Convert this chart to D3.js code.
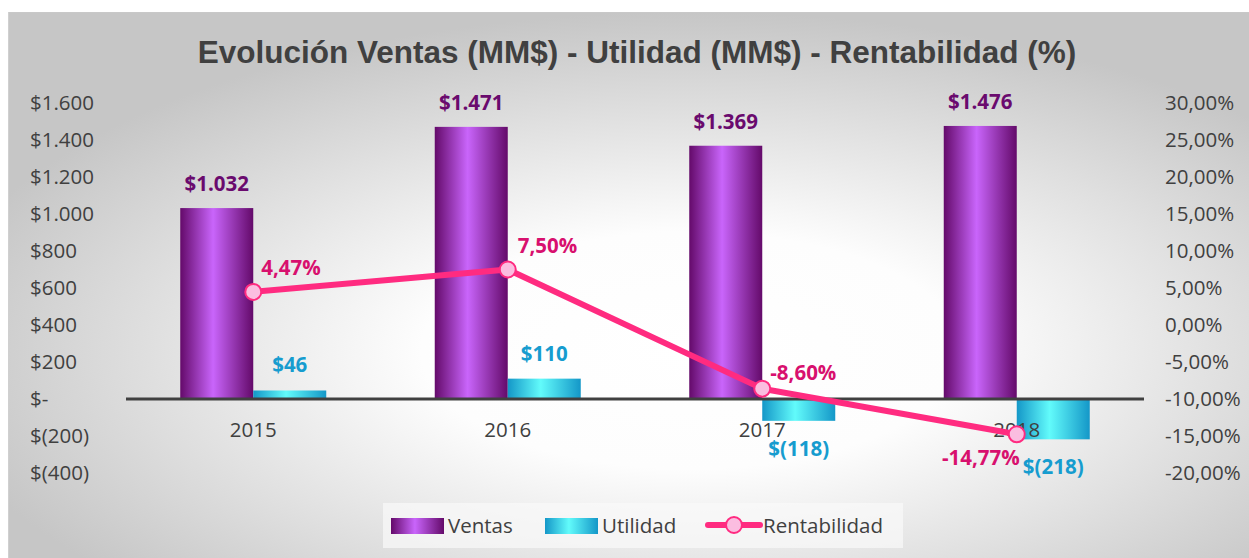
<!DOCTYPE html>
<html>
<head>
<meta charset="utf-8">
<script src="https://cdn.jsdelivr.net/npm/d3@7"></script>
<style>
  body { margin: 0; background: #fff; }
  svg { display: block; }
</style>
</head>
<body>
<div id="chart"></div>
<script>
const years = ["2015", "2016", "2017", "2018"];
const ventas = [1032, 1471, 1369, 1476];
const utilidad = [46, 110, -118, -218];
const rentabilidad = [4.47, 7.50, -8.60, -14.77];
const leftTicks = [1600, 1400, 1200, 1000, 800, 600, 400, 200, 0, -200, -400];
const rightTicks = [30, 25, 20, 15, 10, 5, 0, -5, -10, -15, -20];

const W = 1249, H = 558;
const svg = d3.select("#chart").append("svg").attr("width", W).attr("height", H);
const defs = svg.append("defs");

const bg = defs.append("radialGradient").attr("id", "bg")
    .attr("cx", "55%").attr("cy", "62%").attr("r", "62%");
bg.append("stop").attr("offset", "0%").attr("stop-color", "#ffffff");
bg.append("stop").attr("offset", "35%").attr("stop-color", "#fdfdfd");
bg.append("stop").attr("offset", "100%").attr("stop-color", "#c6c6c6");

function cyl(id, edge, mid) {
  const g = defs.append("linearGradient").attr("id", id).attr("x1", "0").attr("x2", "1").attr("y1", "0").attr("y2", "0");
  g.append("stop").attr("offset", "0%").attr("stop-color", edge);
  g.append("stop").attr("offset", "45%").attr("stop-color", mid);
  g.append("stop").attr("offset", "100%").attr("stop-color", edge);
}
cyl("gv", "#640a6a", "#c965fb");
cyl("gu", "#1497c8", "#62fbfb");

svg.append("rect").attr("x", 8).attr("y", 12).attr("width", W - 8).attr("height", H - 12)
    .attr("fill", "url(#bg)");
svg.append("line").attr("x1", 8).attr("x2", W).attr("y1", 12.5).attr("y2", 12.5)
    .attr("stroke", "#c8c8c8");
svg.append("line").attr("x1", 8.5).attr("x2", 8.5).attr("y1", 12).attr("y2", H)
    .attr("stroke", "#d0d0d0");

svg.append("text").attr("x", 637).attr("y", 63).attr("text-anchor", "middle")
    .style("font-family", "Liberation Sans, Arial, sans-serif").style("font-weight", "bold")
    .style("font-size", "31.5px").attr("fill", "#404040")
    .text("Evolución Ventas (MM$) - Utilidad (MM$) - Rentabilidad (%)");

const x = d3.scaleBand().domain(years).range([126, 1144]);
const y = d3.scaleLinear().domain([-400, 1600]).range([473, 103]);
const yr = d3.scaleLinear().domain([-20, 30]).range([473, 103]);
const barW = 73;

const tickFont = "'Open Sans', 'Noto Sans', sans-serif";
const thou = v => String(v).replace(/\B(?=(\d{3})+(?!\d))/g, ".");
const fmtMoney = v => v === 0 ? "$-" : v < 0 ? "$(" + thou(-v) + ")" : "$" + thou(v);
const fmtPct = v => (v < 0 ? "-" : "") + Math.abs(v).toFixed(2).replace(".", ",") + "%";

const axL = svg.append("g").attr("transform", "translate(103,0)")
    .call(d3.axisLeft(y).tickValues(leftTicks).tickFormat(fmtMoney).tickSize(0).tickPadding(0));
axL.select(".domain").remove();
axL.selectAll("text").attr("text-anchor", "start").attr("x", -73);

const axR = svg.append("g").attr("transform", "translate(1165,0)")
    .call(d3.axisRight(yr).tickValues(rightTicks).tickFormat(fmtPct).tickSize(0).tickPadding(0));
axR.select(".domain").remove();

svg.selectAll(".tick text").style("font-family", tickFont).style("font-size", "20.5px").attr("fill", "#404040");

const g = svg.append("g");
g.selectAll(".v").data(years).join("rect").attr("class", "v")
    .attr("x", d => x(d) + x.bandwidth() / 2 - barW)
    .attr("y", (d, i) => y(ventas[i]))
    .attr("width", barW)
    .attr("height", (d, i) => y(0) - y(ventas[i]))
    .attr("fill", "url(#gv)");
g.selectAll(".u").data(years).join("rect").attr("class", "u")
    .attr("x", d => x(d) + x.bandwidth() / 2)
    .attr("y", (d, i) => y(Math.max(0, utilidad[i])))
    .attr("width", barW)
    .attr("height", (d, i) => Math.abs(y(0) - y(utilidad[i])))
    .attr("fill", "url(#gu)");

svg.append("line").attr("x1", 126).attr("x2", 1144).attr("y1", y(0)).attr("y2", y(0))
    .attr("stroke", "#404040").attr("stroke-width", 3);

const axX = svg.append("g").attr("transform", "translate(0," + (y(0) + 23) + ")")
    .call(d3.axisBottom(x).tickSize(0).tickPadding(0));
axX.select(".domain").remove();
axX.selectAll("text").style("font-family", tickFont).style("font-size", "20.5px").attr("fill", "#404040");

const lblFont = "'Open Sans', 'Noto Sans', sans-serif";
g.selectAll(".vl").data(years).join("text")
    .attr("x", d => x(d) + x.bandwidth() / 2 - barW / 2)
    .attr("y", (d, i) => y(ventas[i]) - 17)
    .attr("text-anchor", "middle").style("font-family", lblFont).style("font-weight", "bold")
    .style("font-size", "20.5px").attr("fill", "#6a0a6e")
    .text((d, i) => fmtMoney(ventas[i]));
g.selectAll(".ul").data(years).join("text")
    .attr("x", d => x(d) + x.bandwidth() / 2 + barW / 2)
    .attr("y", (d, i) => utilidad[i] >= 0 ? y(utilidad[i]) - 18 : y(utilidad[i]) + 35)
    .attr("text-anchor", "middle").style("font-family", lblFont).style("font-weight", "bold")
    .style("font-size", "20.5px").attr("fill", "#169ccf")
    .text((d, i) => fmtMoney(utilidad[i]));

const cx = d => x(d) + x.bandwidth() / 2;
const line = d3.line().x(d => cx(d)).y((d, i) => yr(rentabilidad[i]));
svg.append("path").datum(years).attr("d", line).attr("fill", "none")
    .attr("stroke", "#ff2b80").attr("stroke-width", 6).attr("stroke-linejoin", "round");
svg.selectAll(".m").data(years).join("circle")
    .attr("cx", d => cx(d)).attr("cy", (d, i) => yr(rentabilidad[i])).attr("r", 8)
    .attr("fill", "#fbbde0").attr("stroke", "#ff2b80").attr("stroke-width", 2);

const rOff = [[8, -17, "start"], [10, -17, "start"], [8, -9, "start"], [3, 31, "end"]];
svg.selectAll(".rl").data(years).join("text")
    .attr("x", (d, i) => cx(d) + rOff[i][0])
    .attr("y", (d, i) => yr(rentabilidad[i]) + rOff[i][1])
    .attr("text-anchor", (d, i) => rOff[i][2])
    .style("font-family", lblFont).style("font-weight", "bold")
    .style("font-size", "20.5px").attr("fill", "#d8106e")
    .text((d, i) => fmtPct(rentabilidad[i]));

// legend
const lg = svg.append("g");
lg.append("rect").attr("x", 383).attr("y", 503).attr("width", 520).attr("height", 45)
    .attr("fill", "#f9f9f9").attr("opacity", 0.7);
lg.append("rect").attr("x", 391).attr("y", 518).attr("width", 53).attr("height", 16).attr("fill", "url(#gv)");
lg.append("text").attr("x", 448).attr("y", 533).text("Ventas");
lg.append("rect").attr("x", 545).attr("y", 518).attr("width", 53).attr("height", 16).attr("fill", "url(#gu)");
lg.append("text").attr("x", 602).attr("y", 533).text("Utilidad");
lg.append("line").attr("x1", 708).attr("x2", 760).attr("y1", 525).attr("y2", 525)
    .attr("stroke", "#ff2b80").attr("stroke-width", 6).attr("stroke-linecap", "round");
lg.append("circle").attr("cx", 734).attr("cy", 525).attr("r", 8)
    .attr("fill", "#fbbde0").attr("stroke", "#ff2b80").attr("stroke-width", 2);
lg.append("text").attr("x", 763).attr("y", 533).text("Rentabilidad");
lg.selectAll("text").style("font-family", tickFont).style("font-size", "20.5px").attr("fill", "#404040");
</script>
</body>
</html>
